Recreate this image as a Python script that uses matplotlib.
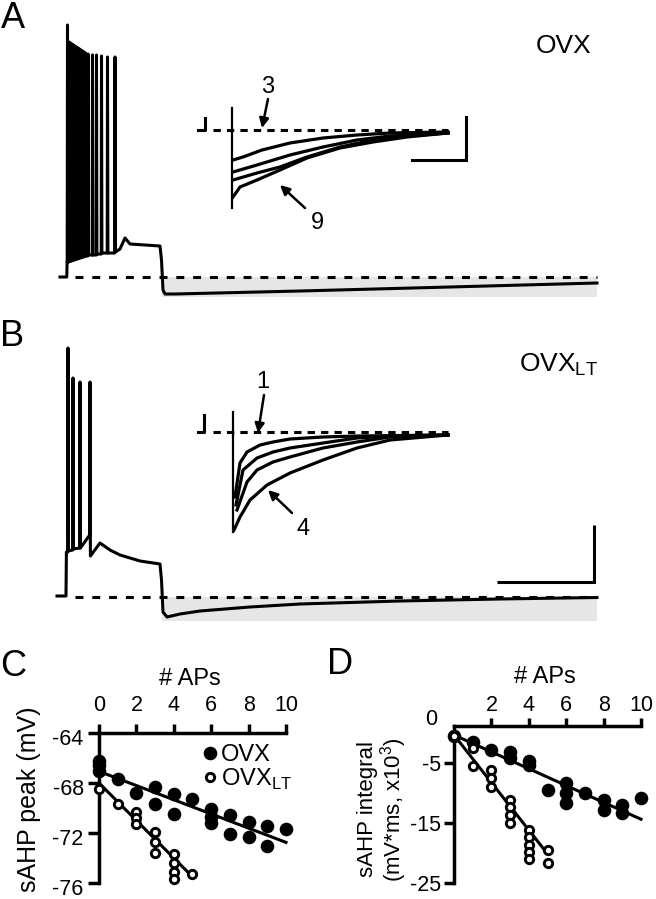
import matplotlib
matplotlib.use("Agg")
import matplotlib.pyplot as plt
import matplotlib.transforms as mtransforms
import numpy as np

plt.rcParams['font.family'] = ['Liberation Sans', 'DejaVu Sans']
plt.rcParams['mathtext.fontset'] = 'custom'
plt.rcParams['mathtext.rm'] = 'Liberation Sans'
plt.rcParams['axes.unicode_minus'] = False

# ---------------- data: panel C (sAHP peak, mV) ----------------
c_ovx_aps = [0, 0, 0, 1, 2, 3, 3, 4, 4, 5, 6, 6, 6, 7, 7, 8, 8, 9, 9, 10]
c_ovx_peak = [-66.2, -66.6, -67.0, -67.7, -68.8, -68.3, -69.7, -68.9, -70.5, -69.3,
              -70.1, -70.7, -71.2, -70.6, -72.1, -71.1, -72.3, -71.4, -73.0, -71.7]
c_lt_aps = [0, 1, 2, 2, 2, 3, 3, 3, 4, 4, 4, 4, 5]
c_lt_peak = [-68.5, -69.7, -70.3, -70.8, -71.3, -71.9, -72.7, -73.6, -73.7, -74.4,
             -75.1, -75.7, -75.3]
c_ovx_fit = [-67.07, -0.568]     # intercept, slope
c_lt_fit = [-68.0, -1.5]
c_ovx_fit_range = [0, 10]
c_lt_fit_range = [0, 5]

# ---------------- data: panel D (sAHP integral, mV*ms x10^3) ----------------
d_ovx_aps = [0, 1, 2, 3, 3, 4, 4, 5, 6, 6, 6, 7, 8, 8, 9, 9, 10]
d_ovx_int = [-0.6, -1.5, -2.9, -3.3, -4.3, -4.8, -5.4, -9.5, -8.4, -10.1, -11.7,
             -10.1, -11.2, -12.9, -12.0, -13.4, -10.8]
d_lt_aps = [0, 1, 1, 2, 2, 2, 3, 3, 3, 3, 4, 4, 4, 4, 4, 5, 5]
d_lt_int = [-0.6, -2.5, -5.5, -6.2, -7.6, -9.0, -11.2, -12.3, -13.7, -15.1,
            -16.2, -17.4, -18.6, -19.8, -21.0, -19.5, -21.7]
d_ovx_fit = [-0.4, -1.4]
d_lt_fit = [-0.4, -3.95]
d_ovx_fit_range = [0, 10]
d_lt_fit_range = [0, 5]

c_xticks = [0, 2, 4, 6, 8, 10]
c_yticks = [-64, -68, -72, -76]
d_xticks = [2, 4, 6, 8, 10]
d_yticks = [-5, -15, -25]

# ---------------- data: traces (time in ms, voltage in mV) ----------------
baseline_mv = -65
# Panel A (OVX) main trace
a_pre_t = [0, 68, 71]
a_pre_v = [-65, -65, -57.5]
a_spike_t = [75, 90, 105, 120, 135, 150, 165, 180, 195, 210, 225, 240, 255, 280,
             325, 365, 415, 475, 550]
a_spike_peak = [61, 52.5, 52, 51.5, 51, 50.5, 50, 49.5, 49, 48.5, 48, 47.5, 47,
                46.5, 46, 46, 45.5, 45, 45]
a_spike_trough = [-57.5, -57, -57, -56.5, -56.5, -56, -56, -55.5, -55.5, -55, -55,
                  -54.5, -54.5, -54, -54, -53.5, -53, -53, -52.5]
a_post_t = [600, 650, 700, 850, 1000, 1015, 1030, 1050, 1150, 2400, 3900, 5370]
a_post_v = [-51, -45.5, -48.5, -49, -49.5, -56.5, -71.5, -73.5, -73.5, -72, -70, -68]
a_shade = [1020, 5370, -75]          # t0, t1, lower voltage

# Panel B (OVX_LT) main trace
b_pre_t = [-30, 60, 64]
b_pre_v = [-64.5, -64.5, -42.5]
b_spike_t = [80, 130, 200, 300]
b_spike_peak = [59.5, 44.5, 42.5, 42.5]
b_spike_trough = [-42, -41, -40.5, -44.5]
b_spike_prelevel = [-42.5, -41.5, -40.5, -34]
b_post_t = [400, 500, 600, 800, 1000, 1015, 1030, 1070, 1200, 1400, 1900, 2400,
            3400, 4400, 5370]
b_post_v = [-38, -41.5, -44, -47, -48.5, -56.5, -72.5, -75, -73.5, -72, -70, -68.5,
            -67, -66, -65.25]
b_shade = [1020, 5370, -77]
dash_range = [150, 5370]
b_scalebar_t = [4370, 5340, 5340]
b_scalebar_v = [-57.5, -57.5, -29]

# Inset traces (time ms after stimulus, voltage relative to baseline, mV)
ia_stub_t = [-350, -280, -280]
ia_stub_v = [0, 0, 1.2]
ia_artifact = [-10, 2.2, -7.8]       # t, top, bottom
ia_curves_t = [
    [0, 100, 290, 570, 900, 1240, 1570, 2150],
    [0, 240, 570, 900, 1240, 1570, 2150],
    [0, 240, 470, 740, 1070, 1400, 1740, 2150],
    [0, 70, 240, 470, 740, 1070, 1400, 1740, 2150],
]
ia_curves_v = [
    [-3.0, -2.7, -2.0, -1.3, -0.8, -0.5, -0.3, -0.2],
    [-4.2, -3.5, -2.5, -1.7, -1.0, -0.6, -0.3],
    [-5.0, -4.3, -3.7, -2.7, -1.7, -1.0, -0.6, -0.3],
    [-6.7, -5.7, -5.0, -4.0, -2.8, -1.8, -1.2, -0.7, -0.3],
]
ia_scalebar_t = [1790, 2330, 2330]
ia_scalebar_v = [-3.0, -3.0, 1.3]

ib_stub_t = [-350, -290, -290]
ib_stub_v = [0, 0, 1.7]
ib_artifact = [0, 2.0, -10.0]
ib_curves_t = [
    [20, 70, 140, 270, 400, 570, 900, 1240, 2150],
    [30, 100, 240, 400, 570, 900, 1240, 1570, 2150],
    [40, 140, 240, 400, 570, 900, 1240, 1570, 2150],
    [10, 70, 170, 340, 570, 900, 1240, 1570, 2150],
]
ib_curves_v = [
    [-6.5, -3.1, -2.0, -1.3, -1.0, -0.7, -0.5, -0.4, -0.3],
    [-7.3, -3.8, -2.6, -2.0, -1.6, -1.1, -0.6, -0.4, -0.3],
    [-7.8, -5.0, -3.8, -3.0, -2.5, -1.6, -1.0, -0.5, -0.3],
    [-9.8, -8.5, -6.8, -5.3, -4.1, -2.8, -1.6, -0.8, -0.3],
]
inset_dash = [-200, 2150]

# ---------------- layout helpers ----------------
W, H = 656, 899
fig = plt.figure(figsize=(W / 100, H / 100), dpi=100)


def px_axes(x0, y0, x1, y1):
    return fig.add_axes([x0 / W, 1 - y1 / H, (x1 - x0) / W, (y1 - y0) / H])


def ftext(x, y, s, **kw):
    fig.text(x / W, 1 - y / H, s, **kw)


def build_trace(pre_t, pre_v, sp_t, sp_peak, sp_trough, post_t, post_v,
                prelevel=None):
    t = list(pre_t)
    v = list(pre_v)
    for i, (ts, pk, tr) in enumerate(zip(sp_t, sp_peak, sp_trough)):
        lvl = prelevel[i] if prelevel is not None else v[-1]
        t += [ts - 3, ts, ts + 4]
        v += [lvl, pk, tr]
    t += list(post_t)
    v += list(post_v)
    return t, v


LW = 2.2
DASH = (2.6, 2.9)

# ---------------- Panel A & B main traces ----------------
axA = px_axes(40, 10, 620, 310)
axB = px_axes(40, 330, 620, 630)
for ax in (axA, axB):
    ax.set_xlim(-200, 5600)
    ax.set_ylim(-81.5, 68.5)
    ax.axis('off')

a_t, a_v = build_trace(a_pre_t, a_pre_v, a_spike_t, a_spike_peak, a_spike_trough,
                       a_post_t, a_post_v)
b_t, b_v = build_trace(b_pre_t, b_pre_v, b_spike_t, b_spike_peak, b_spike_trough,
                       b_post_t, b_post_v, prelevel=b_spike_prelevel)

axA.fill_between([a_shade[0], a_shade[1]], baseline_mv, a_shade[2],
                 color='#e6e6e6', lw=0, zorder=0)
axA.plot(dash_range, [baseline_mv, baseline_mv], color='black', lw=LW,
         dashes=DASH, zorder=1)
axA.plot(a_t, a_v, color='black', lw=LW, zorder=2)

axB.fill_between([b_shade[0], b_shade[1]], baseline_mv, b_shade[2],
                 color='#e6e6e6', lw=0, zorder=0)
axB.plot(dash_range, [baseline_mv, baseline_mv], color='black', lw=LW,
         dashes=DASH, zorder=1)
axB.plot(b_t, b_v, color='black', lw=LW, zorder=2)
axB.plot(b_scalebar_t, b_scalebar_v, color='black', lw=LW,
         solid_joinstyle='miter', solid_capstyle='butt')

# ---------------- Insets ----------------
iaA = px_axes(190, 95, 480, 235)
iaB = px_axes(190, 397, 480, 537)
for ax in (iaA, iaB):
    ax.set_xlim(-430, 2470)
    ax.set_ylim(-10.5, 3.5)
    ax.axis('off')
    ax.patch.set_alpha(0)

iaA.plot(inset_dash, [0, 0], color='black', lw=LW, dashes=(2.4, 2.0))
iaA.plot(ia_stub_t, ia_stub_v, color='black', lw=LW)
iaA.plot([ia_artifact[0]] * 2, ia_artifact[1:], color='black', lw=1.6)
for tt, vv in zip(ia_curves_t, ia_curves_v):
    iaA.plot(tt, vv, color='black', lw=2.3)
iaA.plot(ia_scalebar_t, ia_scalebar_v, color='black', lw=LW,
         solid_joinstyle='miter')

iaB.plot(inset_dash, [0, 0], color='black', lw=LW, dashes=(2.4, 2.0))
iaB.plot(ib_stub_t, ib_stub_v, color='black', lw=LW)
iaB.plot([ib_artifact[0]] * 2, ib_artifact[1:], color='black', lw=1.6)
for tt, vv in zip(ib_curves_t, ib_curves_v):
    iaB.plot(tt, vv, color='black', lw=2.3, clip_on=False)

arrow_kw = dict(arrowstyle='-|>', color='black', lw=1.8, mutation_scale=14,
                shrinkA=0, shrinkB=0)
iaA.text(350, 4.3, '3', fontsize=17, ha='center', va='center')
iaA.annotate('', xy=(290, 0.2), xytext=(350, 3.1), arrowprops=arrow_kw,
             annotation_clip=False)
iaA.text(840, -9.3, '9', fontsize=17, ha='center', va='center')
iaA.annotate('', xy=(470, -5.5), xytext=(720, -7.8), arrowprops=arrow_kw,
             annotation_clip=False)
iaB.text(300, 5.0, '1', fontsize=17, ha='center', va='center')
iaB.annotate('', xy=(250, -0.1), xytext=(310, 3.7), arrowprops=arrow_kw,
             annotation_clip=False)
iaB.text(700, -9.7, '4', fontsize=17, ha='center', va='center')
iaB.annotate('', xy=(350, -5.8), xytext=(590, -8.1), arrowprops=arrow_kw,
             annotation_clip=False)

# ---------------- Panel labels and condition labels ----------------
ftext(13, 18, 'A', fontsize=26, ha='center', va='center')
ftext(12, 337, 'B', fontsize=26, ha='center', va='center')
ftext(13, 667, 'C', fontsize=26, ha='center', va='center')
ftext(340, 665, 'D', fontsize=26, ha='center', va='center')
ftext(564, 46, 'OVX', fontsize=19, ha='center', va='center')
ftext(519, 365, r'OVX$_{\mathrm{LT}}$', fontsize=19, ha='left', va='center')


# ---------------- Panel C ----------------
def style_axes(ax):
    for s in ('bottom', 'right'):
        ax.spines[s].set_visible(False)
    for s in ('top', 'left'):
        ax.spines[s].set_linewidth(2.5)
    ax.xaxis.set_ticks_position('top')
    ax.patch.set_alpha(0)


OPEN_MS, OPEN_MEW, FILL_MS = 6.0, 2.1, 9.8

axC = px_axes(99, 733, 286, 883)
style_axes(axC)
axC.set_xlim(0, 10)
axC.set_ylim(-76, -64)
axC.set_xticks(c_xticks)
axC.set_yticks(c_yticks)
axC.set_yticklabels([str(v) for v in c_yticks])
axC.tick_params(axis='x', direction='out', length=6.5, width=2.5, pad=6,
                labelsize=15.5)
axC.tick_params(axis='y', direction='out', length=8, width=2.5, pad=3,
                labelsize=15.5)
off = mtransforms.ScaledTranslation(0, -4 / 100, fig.dpi_scale_trans)
for lbl in axC.get_yticklabels():
    lbl.set_transform(lbl.get_transform() + off)

xs = np.array(c_ovx_fit_range)
axC.plot(xs, c_ovx_fit[0] + c_ovx_fit[1] * xs, color='black', lw=LW, zorder=2,
         clip_on=False)
xs = np.array(c_lt_fit_range)
axC.plot(xs, c_lt_fit[0] + c_lt_fit[1] * xs, color='black', lw=LW, zorder=2,
         clip_on=False)
h1, = axC.plot(c_ovx_aps, c_ovx_peak, 'o', color='black', ms=FILL_MS, mew=0,
               zorder=3, clip_on=False, label='OVX')
h2, = axC.plot(c_lt_aps, c_lt_peak, 'o', mfc='white', mec='black', ms=OPEN_MS,
               mew=OPEN_MEW, zorder=4, clip_on=False,
               label=r'OVX$_{\mathrm{LT}}$')
leg = axC.legend(handles=[h1, h2], loc='center left',
                 bbox_to_anchor=(203 / W, 1 - 768 / H),
                 bbox_transform=fig.transFigure, frameon=False, fontsize=17,
                 handlelength=0.6, handletextpad=0.15, labelspacing=0.0,
                 borderpad=0, borderaxespad=0)
ftext(190, 679, '# APs', fontsize=17, ha='center', va='center')
axC.set_ylabel('sAHP peak (mV)', fontsize=18)
axC.yaxis.set_label_coords((29 - 99) / 187, (883 - 799) / 150)
axC.yaxis.label.set_va('center')

# ---------------- Panel D ----------------
axD = px_axes(454, 726, 641, 883)
style_axes(axD)
axD.set_xlim(0, 10)
axD.set_ylim(-25, 1.1)
axD.set_xticks(d_xticks)
axD.set_yticks(d_yticks)
axD.set_yticklabels([str(v) for v in d_yticks])
axD.tick_params(axis='x', direction='out', length=5.5, width=2.5, pad=1.5,
                labelsize=15.5)
axD.tick_params(axis='y', direction='out', length=7, width=2.5, pad=2,
                labelsize=15.5)
axD.text(-0.9, 2.1, '0', fontsize=15.5, ha='right', va='center', clip_on=False)

xs = np.array(d_ovx_fit_range)
axD.plot(xs, d_ovx_fit[0] + d_ovx_fit[1] * xs, color='black', lw=LW, zorder=2,
         clip_on=False)
xs = np.array(d_lt_fit_range)
axD.plot(xs, d_lt_fit[0] + d_lt_fit[1] * xs, color='black', lw=LW, zorder=2,
         clip_on=False)
axD.plot(d_ovx_aps, d_ovx_int, 'o', color='black', ms=FILL_MS, mew=0, zorder=3,
         clip_on=False)
axD.plot(d_lt_aps, d_lt_int, 'o', mfc='white', mec='black', ms=OPEN_MS,
         mew=OPEN_MEW, zorder=4, clip_on=False)
ftext(545, 677, '# APs', fontsize=17, ha='center', va='center')
axD.set_ylabel('sAHP integral\n(mV*ms, x10$^{3}$)', fontsize=16,
               linespacing=1.0)
axD.yaxis.set_label_coords((383 - 454) / 187, 0.47)
axD.yaxis.label.set_va('center')

fig.savefig('out.png', dpi=100)
